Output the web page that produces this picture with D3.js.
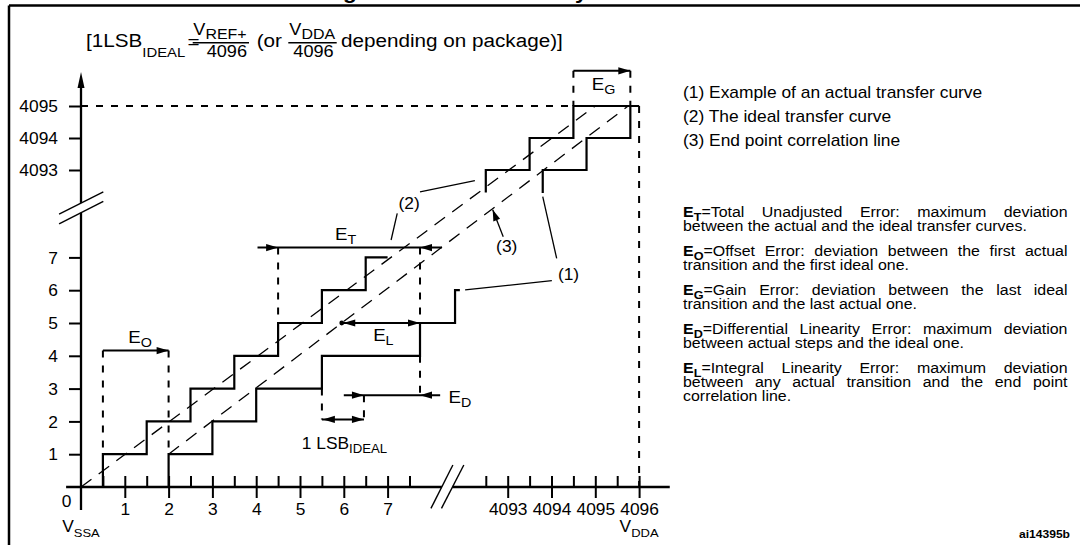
<!DOCTYPE html>
<html><head><meta charset="utf-8">
<script src="https://cdn.jsdelivr.net/npm/d3@7"></script>
<style>
html,body{margin:0;padding:0;background:#fff;}
svg{display:block;}
text{font-family:"Liberation Sans",Arial,Helvetica,sans-serif;fill:#000;}
</style></head><body>
<svg id="c" width="1080" height="545"></svg>
<script>
// ---------------- data ----------------
const xTickLow  = [1,2,3,4,5,6,7];
const xHalfLow  = [0.5,1.5,2.5,3.5,4.5,5.5,6.5,7.5];
const xTickHigh = [4093,4094,4095,4096];
const xHalfHigh = [4092.5,4093.5,4094.5,4095.5];
const yTickLow  = [1,2,3,4,5,6,7];
const yTickHigh = [4093,4094,4095];
const idealTransLow  = [0.5,1.5,2.5,3.5,4.5,5.5,6.5];   // code 1..7 transitions
const idealEndLow    = 7.0;
const idealTransHigh = [4092.5,4093.5,4094.5];          // code 4093..4095
const actualTransLow = [2.0,3.0,4.0,5.5,7.74,8.54];     // code 1..6
const actualEndLow   = 8.65;
const actualTransHigh= [4093.8,4094.8,4095.8];          // code 4093..4095
const highEntry      = 4092.3;
const fullScale      = 4096;
const idealLine      = [[0,0],[4095,4095]];
const endPointLine   = [[2.0,1],[4095.75,4095]];
const legendItems = ["(1) Example of an actual transfer curve","(2) The ideal transfer curve","(3) End point correlation line"];
const defs = [
 {sym:"T", lines:["=Total Unadjusted Error: maximum deviation","between the actual and the ideal transfer curves."]},
 {sym:"O", lines:["=Offset Error: deviation between the first actual","transition and the first ideal one."]},
 {sym:"G", lines:["=Gain Error: deviation between the last ideal","transition and the last actual one."]},
 {sym:"D", lines:["=Differential Linearity Error: maximum deviation","between actual steps and the ideal one."]},
 {sym:"L", lines:["=Integral Linearity Error: maximum deviation","between any actual transition and the end point","correlation line."]}
];
// annotation geometry in value units
const eO = {y:4.16, from:0.5, to:2.0};
const eT = {y:7.30, tail0:4.03, tip0:4.5, tip1:7.74, tail1:8.24};
const eL = {y:5, tip1:7.74};
const eD = {y:2.80, tail0:6.0, tip0:6.46, tip1:7.74, tail1:8.2};
const lsb = {y:2.06, from:5.5, to:6.46};
const eG = {y:4096.1, from:4094.5, to:4095.8};
const leaders = [
 [[8.77,6.01],[10.75,6.29]],
 [[10.86,6.97],[4093.8,4092.17]],
 [[7.74,9.0],[4092.25,4092.67]],
 [[7.22,8.34],[7.08,7.53]]
];
const arrow3 = [[9.64,7.63],[9.40,8.45]];
const labels = [
 {t:"(1)", x:11.13, y:6.31},
 {t:"(2)", x:7.49, y:8.48},
 {t:"(3)", x:9.72, y:7.16}
];
const eLabels = [
 {s:"O", x:1.08, y:4.38},
 {s:"T", x:5.80, y:7.53},
 {s:"L", x:6.67, y:4.44},
 {s:"D", x:8.39, y:2.56},
 {s:"G", x:4094.92, y:4095.5}
];

// ---------------- scales ----------------
const SX = 1.1;
const xLo = d3.scaleLinear().domain([0,1]).range([81,124.8]);
const xHi = d3.scaleLinear().domain([4093,4094]).range([507.7,551.5]);
const yLo = d3.scaleLinear().domain([0,1]).range([487,454.2]);
const yHi = d3.scaleLinear().domain([4095,4094]).range([106,138]);
const X = v => v>1000 ? xHi(v) : xLo(v);
const Y = v => v>1000 ? yHi(v) : yLo(v);
const line = d3.line().x(d=>X(d[0])).y(d=>Y(d[1]));

const svg = d3.select("#c");
const g = svg.append("g");

function L(x1,y1,x2,y2,w,dash){
  const l = g.append("line").attr("x1",x1).attr("y1",y1).attr("x2",x2).attr("y2",y2)
   .attr("stroke","#000").attr("stroke-width",w||2);
  if(dash) l.attr("stroke-dasharray",dash);
  return l;
}
function head(tip, from, Ln, W){
  Ln = Ln||12; W = W||3.6;
  const dx=tip[0]-from[0], dy=tip[1]-from[1], len=Math.hypot(dx,dy);
  const ux=dx/len, uy=dy/len, bx=tip[0]-ux*Ln, by=tip[1]-uy*Ln;
  g.append("path").attr("d",`M${tip[0]},${tip[1]}L${bx-uy*W},${by+ux*W}L${bx+uy*W},${by-ux*W}Z`).attr("fill","#000");
}
function rich(x,y,parts,opt){
  const t = g.append("text").attr("transform",`translate(${x},${y}) scale(${SX},1)`).style("font-size",opt.size+"px");
  if(opt.anchor) t.attr("text-anchor",opt.anchor);
  let cur=0;
  parts.forEach(p=>{
    const s=t.append("tspan").text(p.t);
    const target = p.sub ? (opt.subDy||4) : 0;
    if(target!==cur){ s.attr("dy",target-cur); cur=target; }
    if(p.sub) s.style("font-size",(opt.subSize||opt.size*0.75)+"px");
    if(p.bold) s.style("font-weight","bold");
  });
  return t;
}

// ---------------- frame & title ----------------
g.append("text").attr("transform",`translate(323,-1) scale(${SX},1)`).style("font-size","20.5px").style("font-weight","bold")
 .text("Figure 38. ADC accuracy characteristics");
L(9,5.5,1080,5.5,2.5);
L(9,5.5,9,545,2.5);

// ---------------- axes ----------------
const dashG = "7,8";
L(xLo(-0.34),yLo(0),xLo(8.24),yLo(0),2.3);
L(xLo(8.48),yLo(0),xHi(4096.7),yLo(0),2.3);
L(xLo(0),yLo(-0.7),xLo(0),yLo(8.36),2.3);
L(xLo(0),yLo(8.66),xLo(0),yHi(4096.06)+14,2.3);
head([xLo(0),yHi(4096.06)],[xLo(0),yHi(4090)],16,3.5);
[[[7.99,-0.65],[8.49,0.67]],[[8.23,-0.65],[8.74,0.67]],[[-0.5,8.32],[0.51,9.0]],[[-0.5,8.02],[0.51,8.71]]]
 .forEach(s=>g.append("path").attr("d",line(s)).attr("stroke","#000").attr("stroke-width",1.4).attr("fill","none"));

function styleAxis(sel){
  sel.attr("font-family",null).attr("font-size",null);
  sel.select(".domain").remove();
  sel.selectAll(".tick line").attr("stroke-width",2);
}
[[xLo,xTickLow],[xHi,xTickHigh]].forEach(([sc,tv])=>{
  const a = g.append("g").attr("transform",`translate(0,${yLo(0)})`)
    .call(d3.axisBottom(sc).tickValues(tv).tickSize(11).tickFormat(d3.format("d")));
  styleAxis(a);
  a.selectAll(".tick text").attr("y",null).attr("dy",null)
   .attr("transform",`translate(0,28) scale(${SX},1)`).style("font-size","15.8px");
});
[[xLo,xHalfLow.concat(xTickLow)],[xHi,xHalfHigh.concat(xTickHigh)]].forEach(([sc,tv])=>{
  const a = g.append("g").attr("transform",`translate(0,${yLo(0)})`)
    .call(d3.axisTop(sc).tickValues(tv).tickSize(11).tickFormat(""));
  styleAxis(a);
});
[[yLo,yTickLow],[yHi,yTickHigh]].forEach(([sc,tv])=>{
  const a = g.append("g").attr("transform",`translate(${xLo(0)},0)`)
    .call(d3.axisLeft(sc).tickValues(tv).tickSize(12).tickFormat(d3.format("d")));
  styleAxis(a);
  a.selectAll(".tick text").attr("x",null).attr("dy",null)
   .attr("transform",`translate(-23,5.6) scale(${SX},1)`).style("font-size","15.8px");
});
rich(xLo(-0.33),yLo(-0.6),[{t:"0"}],{size:15.8,anchor:"middle"});
rich(xLo(0),532,[{t:"V"},{t:"SSA",sub:1}],{size:15.8,anchor:"middle",subSize:11.8,subDy:5});
rich(xHi(fullScale),532,[{t:"V"},{t:"DDA",sub:1}],{size:15.8,anchor:"middle",subSize:11.8,subDy:5});

// ---------------- guides ----------------
L(xLo(0),yHi(4095),xHi(fullScale),yHi(4095),2,dashG);
L(xHi(fullScale),yHi(4095),xHi(fullScale),yLo(0),2,dashG);

[idealLine,endPointLine].forEach(d=>g.append("path").attr("d",line(d)).attr("fill","none")
  .attr("stroke","#000").attr("stroke-width",1.3).attr("stroke-dasharray","13,9"));

// ---------------- staircases ----------------
function stairs(trans,startCode,startLevel,endX){
  const pts=[[trans[0],startLevel]];
  trans.forEach((t,i)=>{
    const code=startCode+i;
    pts.push([t,code]);
    pts.push([i<trans.length-1?trans[i+1]:endX,code]);
  });
  return pts;
}
[stairs(idealTransLow,1,0,idealEndLow),
 stairs(actualTransLow,1,0,actualEndLow),
 stairs(idealTransHigh,4093,highEntry,fullScale),
 stairs(actualTransHigh,4093,highEntry-0.02,actualTransHigh[2])]
 .forEach(p=>g.append("path").attr("d",line(p)).attr("fill","none").attr("stroke","#000")
   .attr("stroke-width",2.2).attr("stroke-linejoin","miter"));

// ---------------- error annotations ----------------
L(xLo(eO.from),yLo(eO.y),xLo(eO.from),yLo(1),2,dashG);
L(xLo(eO.to),yLo(eO.y),xLo(eO.to),yLo(1),2,dashG);
L(xLo(eO.from),yLo(eO.y),xLo(eO.to),yLo(eO.y),2);
head([xLo(eO.to),yLo(eO.y)],[xLo(eO.from),yLo(eO.y)]);
L(xLo(eT.tip0),yLo(eT.y),xLo(eT.tip0),yLo(5),2,dashG);
L(xLo(eT.tip1),yLo(eT.y),xLo(eT.tip1),yLo(5),2,dashG);
L(xLo(eT.tail0),yLo(eT.y),xLo(eT.tail1),yLo(eT.y),2);
head([xLo(eT.tip0),yLo(eT.y)],[xLo(eT.tail0),yLo(eT.y)]);
head([xLo(eT.tip1),yLo(eT.y)],[xLo(eT.tail1),yLo(eT.y)]);
const p0=[X(endPointLine[0][0]),Y(endPointLine[0][1])], p1=[X(endPointLine[1][0]),Y(endPointLine[1][1])];
const yl=yLo(eL.y), xl=p0[0]+(p1[0]-p0[0])*(yl-p0[1])/(p1[1]-p0[1]);
L(xl,yl,xLo(eL.tip1),yl,2);
head([xl+1.5,yl],[xLo(eL.tip1),yl]);
head([xLo(eL.tip1),yl],[xl,yl]);
g.append("circle").attr("cx",xl).attr("cy",yl).attr("r",2.4).attr("fill","#000");
L(xLo(eD.tip1),yLo(4),xLo(eD.tip1),yLo(eD.y),2,dashG);
L(xLo(eD.tip0),yLo(eD.y),xLo(eD.tip0),yLo(lsb.y),2,dashG);
L(xLo(eD.tail0),yLo(eD.y),xLo(eD.tail1),yLo(eD.y),2);
head([xLo(eD.tip0),yLo(eD.y)],[xLo(eD.tail0),yLo(eD.y)]);
head([xLo(eD.tip1),yLo(eD.y)],[xLo(eD.tail1),yLo(eD.y)]);
L(xLo(lsb.from),yLo(3),xLo(lsb.from),yLo(lsb.y),2,dashG);
L(xLo(lsb.from),yLo(lsb.y),xLo(lsb.to),yLo(lsb.y),2);
head([xLo(lsb.from)+1,yLo(lsb.y)],[xLo(lsb.to),yLo(lsb.y)]);
head([xLo(lsb.to),yLo(lsb.y)],[xLo(lsb.from),yLo(lsb.y)]);
L(xHi(eG.from),yHi(eG.y),xHi(eG.from),yHi(4095),2,dashG);
L(xHi(eG.to),yHi(eG.y),xHi(eG.to),yHi(4095),2,dashG);
L(xHi(eG.from),yHi(eG.y),xHi(eG.to),yHi(eG.y),2);
head([xHi(eG.to),yHi(eG.y)],[xHi(eG.from),yHi(eG.y)]);

leaders.forEach(d=>g.append("path").attr("d",line(d)).attr("stroke","#000").attr("stroke-width",1.3).attr("fill","none"));
g.append("path").attr("d",line(arrow3)).attr("stroke","#000").attr("stroke-width",1.3).attr("fill","none");
head([X(arrow3[1][0]),Y(arrow3[1][1])],[X(arrow3[0][0]),Y(arrow3[0][1])],11,3.6);

labels.forEach(d=>rich(X(d.x),Y(d.y),[{t:d.t}],{size:15.8,anchor:"middle"}));
eLabels.forEach(d=>rich(X(d.x),Y(d.y),[{t:"E"},{t:d.s,sub:1}],{size:17,subSize:13,subDy:4}));
rich(xLo(5.04),yLo(1.17),[{t:"1 LSB"},{t:"IDEAL",sub:1}],{size:15.8,subSize:12,subDy:4.7});

// ---------------- formula ----------------
rich(86,47,[{t:"[1LSB"},{t:"IDEAL",sub:1}],{size:18.8,subSize:13.5,subDy:9.5});
rich(187.5,47.5,[{t:"="}],{size:18.8});
rich(193.3,35,[{t:"V"},{t:"REF+",sub:1}],{size:16.5,subSize:14.5,subDy:4.3});
L(192.7,42.7,249,42.7,1.4);
rich(206.7,57,[{t:"4096"}],{size:16.5});
rich(256.7,47,[{t:"(or"}],{size:18.8});
rich(289.3,35,[{t:"V"},{t:"DDA",sub:1}],{size:16.5,subSize:14.5,subDy:4.3});
L(288.3,42.7,336.7,42.7,1.4);
rich(293.3,57,[{t:"4096"}],{size:16.5});
rich(341,47,[{t:"depending on package)]"}],{size:18.8});

// ---------------- legend ----------------
legendItems.forEach((s,i)=>rich(683,97.5+i*24,[{t:s}],{size:15.8}));

// ---------------- definitions ----------------
const defX=683, defRight=1067.5, parStart=[217,256,295,334,373], pitch=14;
defs.forEach((d,pi)=>{
  d.lines.forEach((ln,li)=>{
    const parts = li===0 ? [{t:"E",bold:1},{t:d.sym,sub:1,bold:1},{t:ln}] : [{t:ln}];
    const t = rich(defX,parStart[pi]+li*pitch,parts,{size:14.5,subSize:11.5,subDy:3.5});
    if(li<d.lines.length-1){
      const nat=t.node().getComputedTextLength();
      const spaces=(ln.match(/ /g)||[]).length;
      const target=(defRight-defX)/SX;
      if(spaces>0) t.style("word-spacing",((target-nat)/spaces)+"px");
    }
  });
});

g.append("text").attr("transform",`translate(1070,538) scale(${SX},1)`).attr("text-anchor","end")
 .style("font-size","11px").style("font-weight","bold").text("ai14395b");
</script>
</body></html>
